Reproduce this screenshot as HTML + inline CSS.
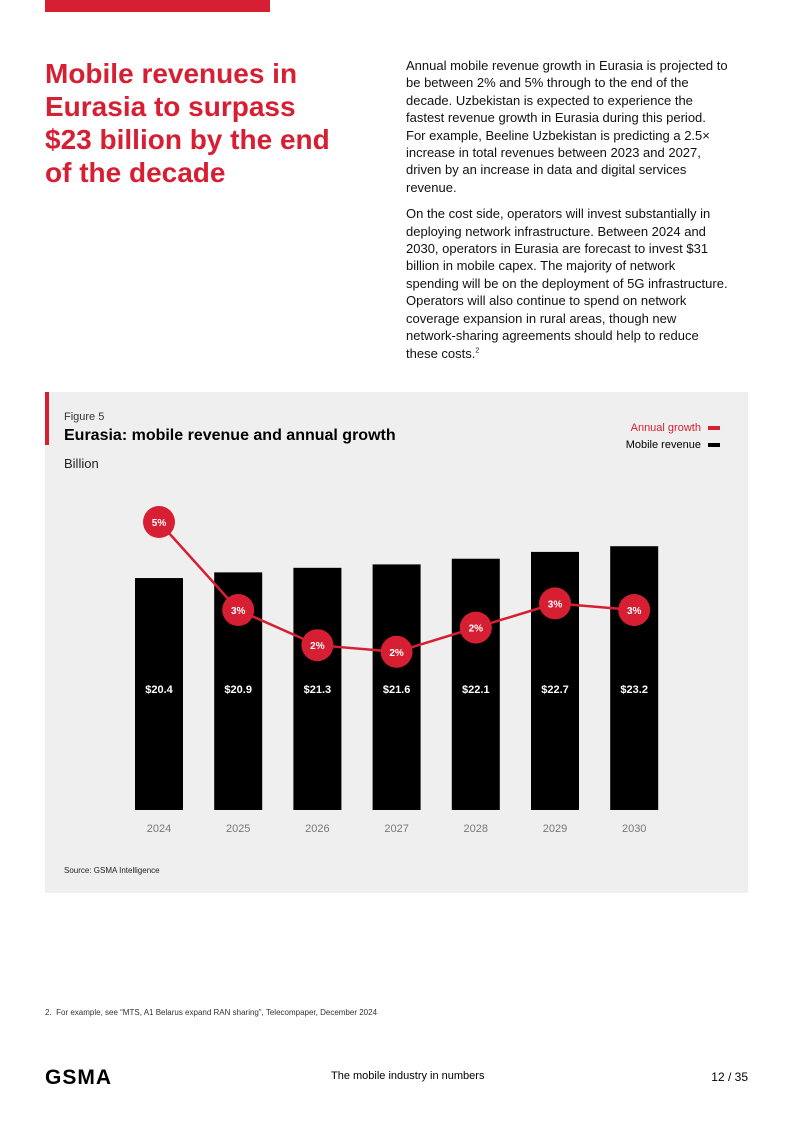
<!DOCTYPE html>
<html><head><meta charset="utf-8"><style>
body{margin:0;width:793px;height:1121px;background:#fff;position:relative;font-family:"Liberation Sans",sans-serif;overflow:hidden}
.a{position:absolute}
</style></head><body>
<div class="a" style="left:45px;top:0;width:225px;height:12px;background:#d71f33"></div>
<div class="a" style="left:45px;top:57px;width:310px;font-size:28px;font-weight:bold;line-height:33px;color:#d71f33">Mobile revenues in<br>Eurasia to surpass<br>$23 billion by the end<br>of the decade</div>
<div class="a" style="left:406px;top:57px;width:322px;font-size:13px;line-height:17.4px;color:#111">
<p style="margin:0 0 9px">Annual mobile revenue growth in Eurasia is projected to be between 2% and 5% through to the end of the decade. Uzbekistan is expected to experience the fastest revenue growth in Eurasia during this period. For example, Beeline Uzbekistan is predicting a 2.5× increase in total revenues between 2023 and 2027, driven by an increase in data and digital services revenue.</p>
<p style="margin:0">On the cost side, operators will invest substantially in deploying network infrastructure. Between 2024 and 2030, operators in Eurasia are forecast to invest $31 billion in mobile capex. The majority of network spending will be on the deployment of 5G infrastructure. Operators will also continue to spend on network coverage expansion in rural areas, though new network-sharing agreements should help to reduce these costs.<sup style="font-size:7px;line-height:0">2</sup></p></div>
<div class="a" style="left:45px;top:392px;width:703px;height:501px;background:#efefef"></div>
<div class="a" style="left:45px;top:392px;width:4px;height:53px;background:#d71f33"></div>
<div class="a" style="left:64px;top:411px;font-size:11px;color:#333">Figure 5</div>
<div class="a" style="left:64px;top:427px;font-size:16px;font-weight:bold;color:#000">Eurasia: mobile revenue and annual growth</div>
<div class="a" style="left:64px;top:456px;font-size:13px;color:#222">Billion</div>
<div class="a" style="left:560px;top:422px;width:160px;text-align:right;font-size:11px;color:#d71f33">Annual growth <span style="display:inline-block;width:12px;height:4px;background:#d71f33;vertical-align:middle;margin-left:4px"></span></div>
<div class="a" style="left:560px;top:439px;width:160px;text-align:right;font-size:11px;color:#000">Mobile revenue <span style="display:inline-block;width:12px;height:4px;background:#000;vertical-align:middle;margin-left:4px"></span></div>
<svg class="a" style="left:0;top:0" width="793" height="1121" id="chart"></svg>
<div class="a" style="left:64px;top:866px;font-size:8px;color:#222">Source: GSMA Intelligence</div>
<div class="a" style="left:45px;top:1008px;font-size:8px;color:#333">2.&nbsp; For example, see “MTS, A1 Belarus expand RAN sharing”, Telecompaper, December 2024</div>
<div class="a" style="left:45px;top:1066px;font-size:21px;font-weight:bold;letter-spacing:1px;color:#000">GSMA</div>
<div class="a" style="left:331px;top:1070px;font-size:11px;color:#000">The mobile industry in numbers</div>
<div class="a" style="left:700px;top:1070px;width:48px;text-align:right;font-size:12px;color:#000">12 / 35</div>
<script>
const years=["2024","2025","2026","2027","2028","2029","2030"];
const revenue=[20.4,20.9,21.3,21.6,22.1,22.7,23.2];
const growth=[5.0,3.0,2.2,2.05,2.6,3.15,3.0];
const growthLabels=["5%","3%","2%","2%","2%","3%","3%"];
const NS="http://www.w3.org/2000/svg",svg=document.getElementById('chart');
const xc=i=>159+i*79.2, yb=v=>810-v*11.37, yg=v=>522+(5-v)*44;
function mk(t,a){const e=document.createElementNS(NS,t);for(const k in a)e.setAttribute(k,a[k]);svg.appendChild(e);return e;}
years.forEach((y,i)=>{
 const r=mk('rect',{x:xc(i)-24,y:yb(revenue[i]),width:48,height:810-yb(revenue[i]),fill:'#000'});
 
 
 const t=mk('text',{x:xc(i),y:693,'text-anchor':'middle','font-size':11,'font-weight':'bold',fill:'#fff','font-family':'Liberation Sans'});t.textContent='$'+revenue[i].toFixed(1);
 
 
 const l=mk('text',{x:xc(i),y:832,'text-anchor':'middle','font-size':11,fill:'#777','font-family':'Liberation Sans'});l.textContent=y;
 
 
});
const ln=mk('polyline',{points:growth.map((g,i)=>xc(i)+','+yg(g)).join(' '),fill:'none',stroke:'#d71f33','stroke-width':2.5});


growth.forEach((g,i)=>{
 const c=mk('circle',{cx:xc(i),cy:yg(g),r:16,fill:'#d71f33'});
 
 
 const t=mk('text',{x:xc(i),y:yg(g)+4,'text-anchor':'middle','font-size':10,'font-weight':'bold',fill:'#fff','font-family':'Liberation Sans'});t.textContent=growthLabels[i];
 
 
});
</script>
</body></html>
